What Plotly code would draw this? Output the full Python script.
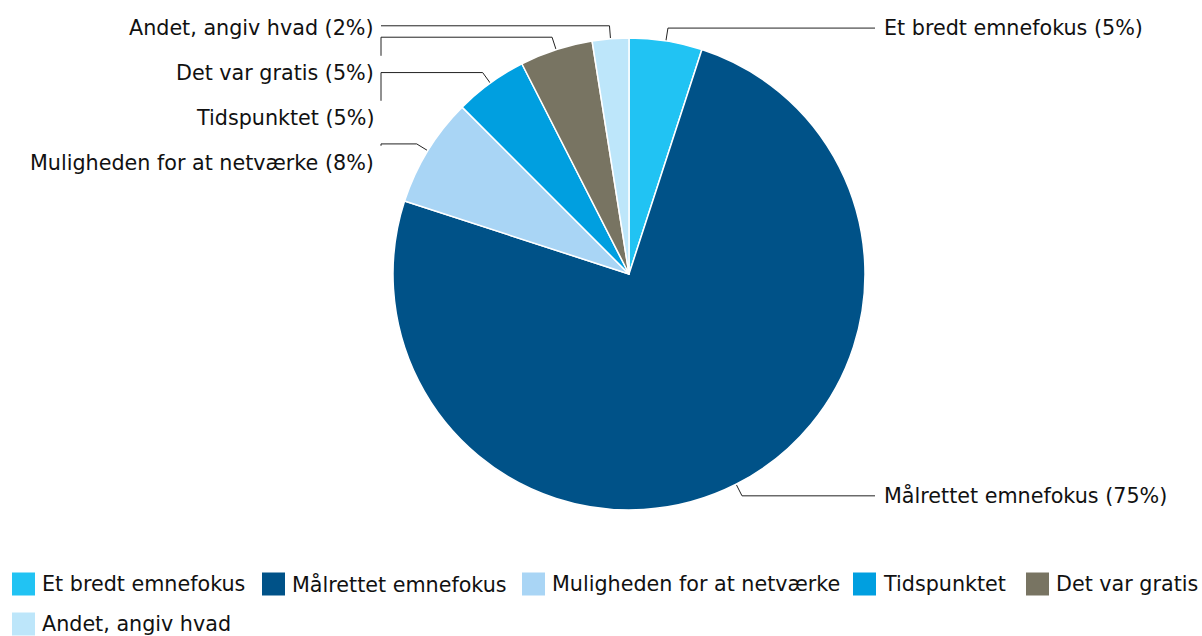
import math
import plotly.graph_objects as go

# data (responses per answer, and the percentages printed on the labels)
labels = ["Et bredt emnefokus", "Målrettet emnefokus", "Muligheden for at netværke",
          "Tidspunktet", "Det var gratis", "Andet, angiv hvad"]
counts = [2, 30, 3, 2, 2, 1]
pct_text = [5, 75, 8, 5, 5, 2]
colors = ["#21c3f3", "#005288", "#a9d5f5", "#009fe0", "#787462", "#bde6fa"]

W, H = 1202, 636
CX, CY, R = 629, 274, 236
FONT = dict(family="DejaVu Sans, Verdana, sans-serif", size=20.7, color="#111111")

fig = go.Figure()

fig.add_trace(go.Pie(
    labels=labels, values=counts, sort=False, direction="clockwise", rotation=0,
    marker=dict(colors=colors, line=dict(color="white", width=1.5)),
    textinfo="none", showlegend=False, hoverinfo="label+percent",
    domain=dict(x=[(CX - R) / W, (CX + R) / W], y=[1 - (CY + R) / H, 1 - (CY - R) / H]),
))

# leader lines + labels, computed from slice angles
total = sum(counts)
cum = 0
right, left = [], []
for lab, v, p in zip(labels, counts, pct_text):
    th = 2 * math.pi * (cum + v / 2) / total
    cum += v
    s, c = math.sin(th), -math.cos(th)
    p0 = (CX + 0.9 * R * s, CY + 0.9 * R * c)
    p1 = (CX + 1.055 * R * s, CY + 1.055 * R * c)
    txt = f"{lab} ({p}%)"
    (right if s >= 0 else left).append((p1[1], p0, p1, txt))

LINE = dict(color="#222222", width=1)
for ey, p0, p1, txt in right:
    fig.add_trace(go.Scatter(x=[p0[0], p1[0], 875], y=[p0[1], p1[1], p1[1]], mode="lines",
                             line=LINE, showlegend=False, hoverinfo="skip"))
    fig.add_annotation(x=882, y=ey, text=txt, showarrow=False, xanchor="left", yanchor="middle", font=FONT)

left.sort(key=lambda t: t[0])
prev = -1e9
for ey, p0, p1, txt in left:
    ly = max(ey + 2, prev + 45)
    prev = ly
    xs = [p0[0], p1[0], 381]
    ys = [p0[1], p1[1], p1[1]]
    if ly - 17 > p1[1]:
        xs.append(381)
        ys.append(ly - 17)
    fig.add_trace(go.Scatter(x=xs, y=ys, mode="lines",
                             line=LINE, showlegend=False, hoverinfo="skip"))
    fig.add_annotation(x=376, y=ly, text=txt, showarrow=False, xanchor="right", yanchor="middle", font=FONT)

# legend (drawn by hand for the large square swatches)
leg_x = [12, 262, 522, 853, 1026, 12]
leg_y = [584, 584, 584, 584, 584, 624]
for lab, col, lx, ly in zip(labels, colors, leg_x, leg_y):
    fig.add_shape(type="rect", x0=lx, x1=lx + 23, y0=ly - 11.5, y1=ly + 11.5,
                  fillcolor=col, line=dict(width=0), layer="above")
    fig.add_annotation(x=lx + 28, y=ly, text=lab, showarrow=False, xanchor="left", yanchor="middle", font=FONT)

fig.update_layout(
    width=W, height=H, margin=dict(l=0, r=0, t=0, b=0),
    paper_bgcolor="white", plot_bgcolor="rgba(0,0,0,0)",
    xaxis=dict(range=[0, W], visible=False, fixedrange=True),
    yaxis=dict(range=[H, 0], visible=False, fixedrange=True),
    showlegend=False,
)

# drop the default page margin so the 1202x636 figure fills the window exactly
fig.write_html("out.html", config={"displayModeBar": False},
               post_script="document.body.style.margin='0';document.body.style.overflow='hidden';")
